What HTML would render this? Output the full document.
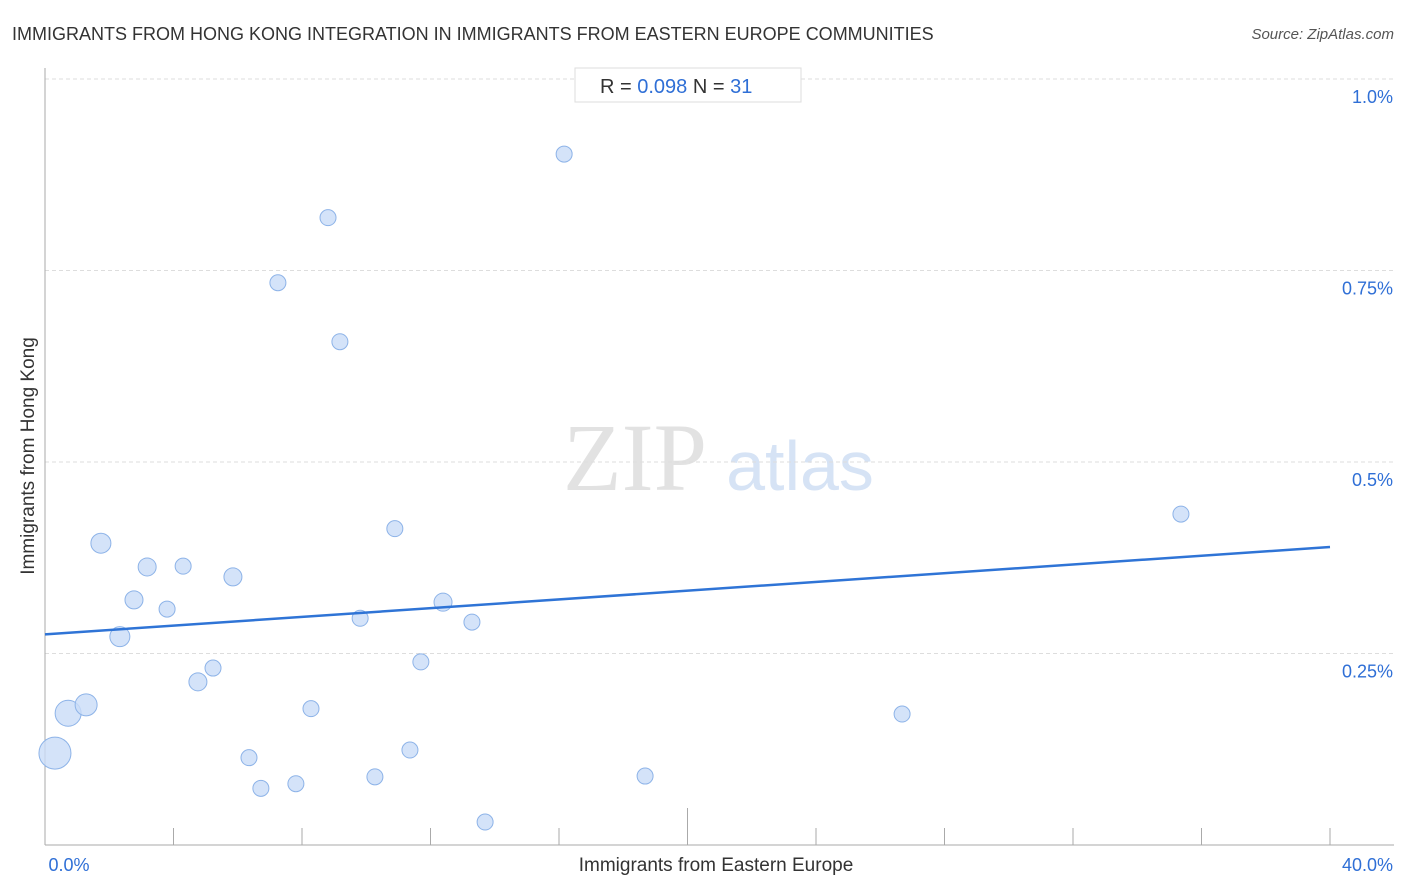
<!DOCTYPE html>
<html><head><meta charset="utf-8"><style>
body{margin:0;background:#fff;font-family:"Liberation Sans",sans-serif;}
svg{display:block}
</style></head><body>
<svg width="1406" height="892" xmlns="http://www.w3.org/2000/svg">
<text x="12" y="40" font-size="18" fill="#333">IMMIGRANTS FROM HONG KONG INTEGRATION IN IMMIGRANTS FROM EASTERN EUROPE COMMUNITIES</text>
<text x="1394" y="39" font-size="15" fill="#555" font-style="italic" text-anchor="end">Source: ZipAtlas.com</text>
<g>
<text x="635" y="490" font-size="96" fill="#e2e2e2" text-anchor="middle" font-family="Liberation Serif,serif">ZIP</text>
<text x="800" y="490" font-size="70" fill="#d6e3f5" text-anchor="middle">atlas</text>
</g>
<g id="grid"></g>
<g id="axes"></g>
<g id="marks"></g>
<g>
<rect x="575" y="68" width="226" height="34" fill="#fff" stroke="#ddd"/>
<text x="600" y="93" font-size="20" fill="#333">R = <tspan fill="#2f6fd6">0.098</tspan>   N = <tspan fill="#2f6fd6">31</tspan></text>
</g>
<text x="716" y="871" font-size="19" fill="#333" text-anchor="middle">Immigrants from Eastern Europe</text>
<text transform="translate(34,456) rotate(-90)" font-size="19" fill="#333" text-anchor="middle">Immigrants from Hong Kong</text>
</svg>
<script>
const xVals=[0.31,0.72,1.28,1.74,2.33,2.77,3.18,3.80,4.30,4.76,5.23,5.85,6.35,6.72,7.25,7.81,8.28,8.81,9.18,9.81,10.27,10.89,11.36,11.70,12.39,13.29,13.70,16.16,18.68,26.68,35.36];
const yVals=[0.120,0.172,0.183,0.394,0.272,0.320,0.363,0.308,0.364,0.213,0.231,0.350,0.114,0.074,0.734,0.080,0.178,0.819,0.657,0.296,0.089,0.413,0.124,0.239,0.317,0.291,0.030,0.902,0.090,0.171,0.432];
const sizes=[16,13,11,10,10,9,9,8,8,9,8,9,8,8,8,8,8,8,8,8,8,8,8,8,9,8,8,8,8,8,8];
const yTicks=[0.25,0.5,0.75,1.0];
const yTickLabels=["0.25%","0.5%","0.75%","1.0%"];
const xTickLabels=["0.0%","40.0%"];
const trend=[0.275,0.389];
const NS="http://www.w3.org/2000/svg";
const X=v=>45+v/40*1285, Y=v=>845-v*766;
function mk(t,a,p){const e=document.createElementNS(NS,t);for(const k in a)e.setAttribute(k,a[k]);p.appendChild(e);return e;}
const g=document.getElementById('grid'),ax=document.getElementById('axes'),m=document.getElementById('marks');
yTicks.forEach((v,i)=>{
 const l=mk('line',{x1:45,x2:1394,y1:Y(v),y2:Y(v),stroke:'#ddd','stroke-dasharray':'4,3'},g);
 
 
 const t=mk('text',{x:1393,y:Y(v)+24,'font-size':18,fill:'#2f6fd6','text-anchor':'end'},ax);
 t.textContent=yTickLabels[i];
 
 
});
const a1=mk('line',{x1:45,x2:45,y1:68,y2:845,stroke:'#aaa'},ax);


const a2=mk('line',{x1:45,x2:1394,y1:845,y2:845,stroke:'#aaa'},ax);


for(let i=0;i<=10;i++){
 const tk=mk('line',{x1:X(i*4),x2:X(i*4),y1:i==5?808:828,y2:845,stroke:'#aaa'},ax);
 
 
}
[[X(0)+24,'middle',0],[1393,'end',1]].forEach(([x,an,i])=>{
 const t=mk('text',{x:x,y:871,'font-size':18,fill:'#2f6fd6','text-anchor':an},ax);
 t.textContent=xTickLabels[i];
 
 
});
xVals.forEach((x,i)=>{
 const c=mk('circle',{cx:X(x),cy:Y(yVals[i]),r:sizes[i],fill:'#c9dcf7','fill-opacity':0.8,stroke:'#8db3e8','stroke-width':1},m);
 
 
});
const tl=mk('line',{x1:X(0),y1:Y(trend[0]),x2:X(40),y2:Y(trend[1]),stroke:'#2f74d6','stroke-width':2.5},m);


</script>
</body></html>
